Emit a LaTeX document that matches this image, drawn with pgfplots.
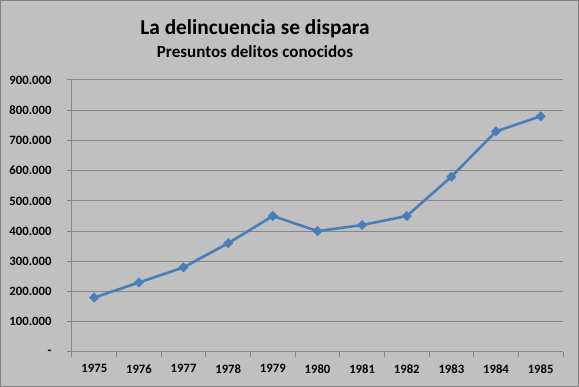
\documentclass[border=0pt]{standalone}
\usepackage{pgfplots}
\pgfplotsset{compat=1.18}
\usepackage{fontspec}
\setmainfont{Carlito}
\definecolor{bg}{HTML}{C0C0C0}
\definecolor{gridc}{HTML}{868686}
\definecolor{framec}{HTML}{7F7F7F}
\definecolor{serie}{HTML}{4A7EBB}
\pgfplotstableread{
x val
0 180000
1 230000
2 280000
3 360000
4 450000
5 400000
6 420000
7 450000
8 580000
9 730000
10 780000
}\datos
\begin{document}
\begin{tikzpicture}[x=1pt,y=1pt]
\fill[bg] (0,0) rectangle (579,387);
\draw[framec,line width=1pt] (0.5,0.5) rectangle (578.5,386.5);
\node[font=\fontsize{21.3}{25}\selectfont\bfseries,anchor=base] at (255,352.5) {La delincuencia se dispara};
\node[font=\fontsize{17}{20}\selectfont\bfseries,anchor=base] at (255,329.3) {Presuntos delitos conocidos};
\begin{axis}[
  at={(72pt,35pt)}, anchor=south west,
  scale only axis, width=491pt, height=272pt,
  xmin=-0.5, xmax=10.5, ymin=0, ymax=900000,
  axis x line*=bottom, axis y line*=left,
  axis line style={draw=gridc, line width=1pt},
  xtick={0,...,10},
  xticklabels={1975,1976,1977,1978,1979,1980,1981,1982,1983,1984,1985},
  minor xtick={-0.5,0.5,...,10.5},
  major x tick style={draw=none},
  minor x tick style={draw=gridc, line width=1pt},
  minor tick length=5pt,
  ytick={0,100000,...,900000},
  yticklabels={{-\hspace{2pt}},100.000,200.000,300.000,400.000,500.000,600.000,700.000,800.000,900.000},
  major y tick style={draw=gridc, line width=1pt},
  major tick length=5pt,
  tick align=outside,
  ymajorgrids, major grid style={draw=gridc, line width=1pt},
  ticklabel style={font=\fontsize{12.7}{14}\selectfont\bfseries},
  xticklabel style={yshift=-4pt},
  yticklabel style={xshift=-12pt},
  /pgf/number format/assume math mode=true,
  scaled y ticks=false,
  clip=false,
]
\addplot[serie, line width=2.6pt, mark=square*, mark size=3.3pt, mark options={solid, fill=serie, line width=0.5pt, rotate=45}] table[x=x,y=val]{\datos};
\end{axis}
\end{tikzpicture}
\end{document}
